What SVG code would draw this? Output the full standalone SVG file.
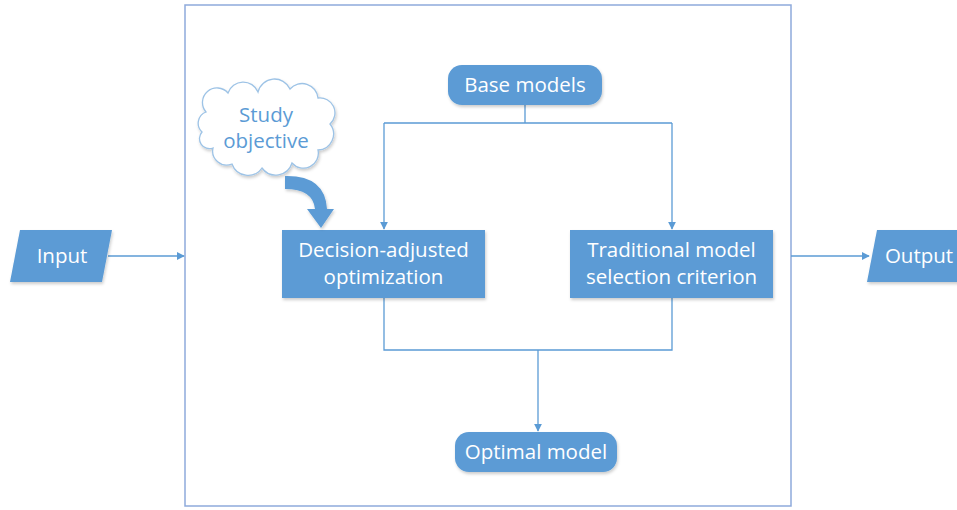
<svg xmlns="http://www.w3.org/2000/svg" width="957" height="510" viewBox="0 0 957 510">
<style>
.box{fill:#5b9bd5;}
.t{font-family:"Open Sans","Liberation Sans",sans-serif;font-size:20.5px;fill:#ffffff;text-anchor:middle;}
.ct{font-family:"Open Sans","Liberation Sans",sans-serif;font-size:20.5px;fill:#5b9bd5;text-anchor:middle;}
.ln{fill:none;stroke:#5b9bd5;stroke-width:1.3;}
</style>
<defs>
<marker id="ah" viewBox="0 0 10 10" refX="9" refY="5" markerWidth="8" markerHeight="8" orient="auto" markerUnits="userSpaceOnUse">
<path d="M0,0 L10,5 L0,10 Z" fill="#5b9bd5"/>
</marker>
<filter id="sh" x="-10%" y="-10%" width="130%" height="140%">
<feDropShadow dx="1" dy="2" stdDeviation="1.5" flood-color="#000" flood-opacity="0.2"/>
</filter>
</defs>
<rect id="frame" x="185" y="5" width="606" height="501" fill="#ffffff" stroke="#8eaadb" stroke-width="1.5"/>
<g id="connectors">
<path class="ln" d="M108,256 H184" marker-end="url(#ah)"/>
<path class="ln" d="M791,256 H869" marker-end="url(#ah)"/>
<path class="ln" d="M525,105 V123 M384,123 H672"/>
<path class="ln" d="M384,123 V229" marker-end="url(#ah)"/>
<path class="ln" d="M672,123 V229" marker-end="url(#ah)"/>
<path class="ln" d="M384,298 V350 H672 V298"/>
<path class="ln" d="M538,350 V431" marker-end="url(#ah)"/>
</g>
<g id="input">
<polygon class="box" points="20,230 112,230 102,282 10,282" filter="url(#sh)"/>
<text class="t" x="62" y="263">Input</text>
</g>
<g id="output">
<polygon class="box" points="877,230 960,230 960,282 867,282" filter="url(#sh)"/>
<text class="t" x="919" y="263">Output</text>
</g>
<g id="base-models">
<rect class="box" x="448" y="65" width="154" height="40" rx="14" filter="url(#sh)"/>
<text class="t" x="525" y="92">Base models</text>
</g>
<g id="decision">
<rect class="box" x="282" y="230" width="203" height="68" filter="url(#sh)"/>
<text class="t" x="383.5" y="257">Decision-adjusted</text>
<text class="t" x="383.5" y="284">optimization</text>
</g>
<g id="traditional">
<rect class="box" x="570" y="230" width="203" height="68" filter="url(#sh)"/>
<text class="t" x="671.5" y="257">Traditional model</text>
<text class="t" x="671.5" y="284">selection criterion</text>
</g>
<g id="optimal-model">
<rect class="box" x="455" y="432" width="162" height="40" rx="14" filter="url(#sh)"/>
<text class="t" x="536" y="459">Optimal model</text>
</g>
<g id="study-objective">
<path d="M213,148 A14,14 0 0 0 232,164 A17,17 0 0 0 262,168 A17,17 0 0 0 292,163 A15,15 0 0 0 318,150 A16,16 0 0 0 330,124 A15,15 0 0 0 318,98 A16,16 0 0 0 290,89 A17,17 0 0 0 258,92 A16,16 0 0 0 228,93 A14,14 0 0 0 206,112 A12,12 0 0 0 202,132 A10,10 0 0 0 213,148 Z" fill="#ffffff" stroke="#9dc3e6" stroke-width="1.3" filter="url(#sh)"/>
<text class="ct" x="266" y="122">Study</text>
<text class="ct" x="266" y="148">objective</text>
</g>
<g id="curved-arrow">
<path d="M285,176 Q325,175 327,209 L334,209 L321,228 L307,209 L315,209 Q313,189 285,189 Z" fill="#5b9bd5" filter="url(#sh)"/>
</g>
</svg>
